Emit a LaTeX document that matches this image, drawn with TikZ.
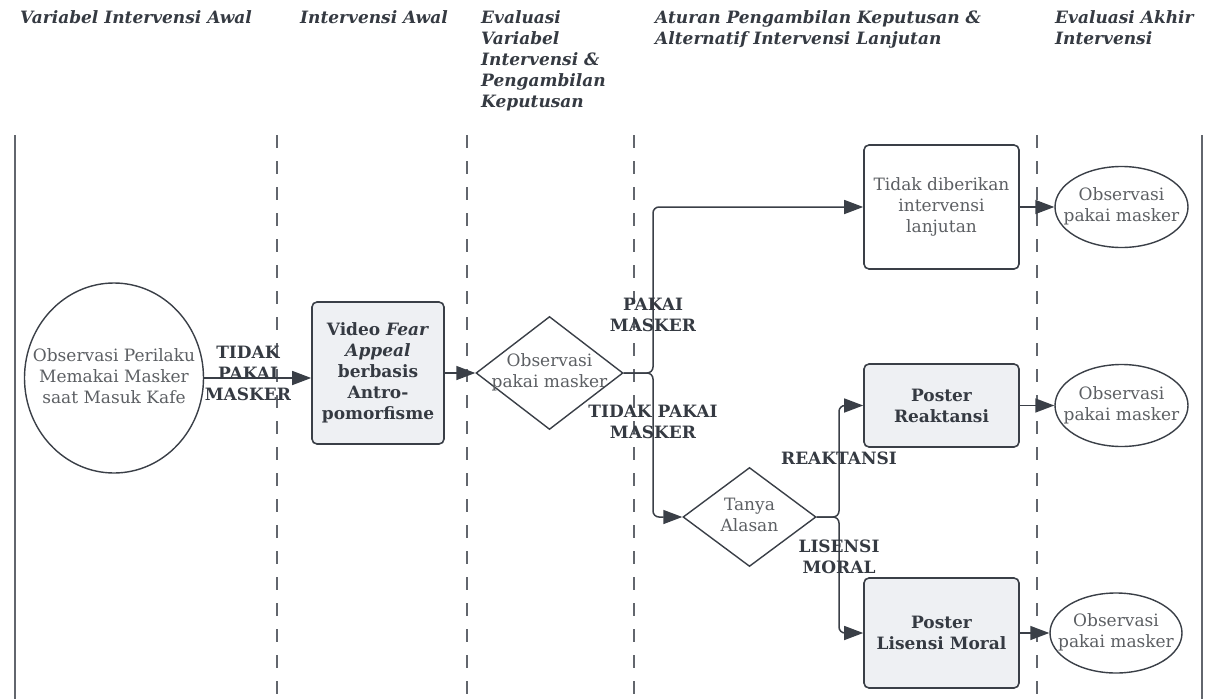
\documentclass[tikz,border=0pt]{standalone}
\usepackage{fontspec}
\setmainfont{DejaVu Serif}
\usepackage{xcolor}
\usepackage{tikz}
\usetikzlibrary{arrows.meta, shapes.geometric, positioning}

\definecolor{lanegray}{HTML}{62666D}
\definecolor{edgedark}{HTML}{3A3F47}
\definecolor{boxfill}{HTML}{EEF0F3}
\definecolor{txtgray}{HTML}{5C5F63}
\definecolor{txtdark}{HTML}{353A42}
\newcommand{\bodyfont}{\fontsize{17pt}{21pt}\selectfont}
\newcommand{\zw}[1]{\makebox[0pt]{\begin{tabular}{@{}c@{}}#1\end{tabular}}}

\begin{document}
\begin{tikzpicture}[
  x=1pt, y=-1pt,
  lane/.style     = {draw=lanegray, line width=1.3pt},
  sep/.style      = {lane, dash pattern=on 13pt off 13pt},
  head/.style     = {anchor=north west, inner sep=0pt, align=left,
                     font=\bodyfont\bfseries\itshape, text=txtdark},
  block/.style    = {rectangle, rounded corners=5pt, draw=edgedark, line width=1.6pt,
                     fill=boxfill, align=center, inner sep=0pt,
                     font=\bodyfont\bfseries, text=txtdark},
  plainbox/.style = {block, fill=white, font=\bodyfont, text=txtgray},
  decision/.style = {diamond, draw=edgedark, line width=1.4pt, inner sep=0pt,
                     fill=white, font=\bodyfont, text=txtgray},
  obs/.style      = {ellipse, draw=edgedark, line width=1.4pt, inner sep=0pt,
                     fill=white, font=\bodyfont, text=txtgray},
  arrow/.style    = {-{Triangle[length=19pt,width=14pt]}, draw=edgedark,
                     line width=1.5pt, rounded corners=6pt},
  tag/.style      = {inner sep=0pt, align=center, font=\bodyfont\bfseries,
                     text=txtdark}
]
\useasboundingbox (0,0) rectangle (1208,699);

\node[head] (h1) at (20,10)   {Variabel Intervensi Awal};
\node[head] (h2) at (300,10)  {Intervensi Awal};
\node[head] (h3) at (481,10)  {Evaluasi\\Variabel\\Intervensi \&\\Pengambilan\\Keputusan};
\node[head] (h4) at (655,10)  {Aturan Pengambilan Keputusan \&\\Alternatif Intervensi Lanjutan};
\node[head] (h5) at (1055,10) {Evaluasi Akhir\\Intervensi};

\draw[lane] (15,135) -- (15,699);
\draw[lane] (1202,135) -- (1202,699);
\foreach \lx in {277,467,634,1037}
  \draw[sep] (\lx,135) -- (\lx,699);

\node[obs, minimum width=179pt, minimum height=190pt] (awal) at (114,378)
  {\zw{Observasi Perilaku\\Memakai Masker\\saat Masuk Kafe}};

\node[block, minimum width=132pt, minimum height=142pt] (video) at (378,373)
  {Video \textit{Fear}\\\textit{Appeal}\\berbasis\\Antro-\\pomorfisme};

\node[decision, minimum width=147pt, minimum height=113pt] (cek) at (549.5,373)
  {\zw{Observasi\\pakai masker}};

\node[decision, minimum width=133pt, minimum height=99pt] (tanya) at (749.5,517)
  {\zw{Tanya\\Alasan}};

\node[plainbox, minimum width=155pt, minimum height=124pt] (tanpa) at (941.5,207)
  {Tidak diberikan\\intervensi\\lanjutan};

\node[block, minimum width=155pt, minimum height=83pt] (reaktansi) at (941.5,405.5)
  {Poster\\Reaktansi};

\node[block, minimum width=155pt, minimum height=110pt] (lisensi) at (941.5,633)
  {Poster\\Lisensi Moral};

\node[obs, minimum width=133pt, minimum height=81pt] (akhirA) at (1121.5,207)
  {\zw{Observasi\\pakai masker}};
\node[obs, minimum width=133pt, minimum height=82pt] (akhirB) at (1121.5,405.5)
  {\zw{Observasi\\pakai masker}};
\node[obs, minimum width=132pt, minimum height=80pt] (akhirC) at (1116,633)
  {\zw{Observasi\\pakai masker}};

\coordinate (cabang1) at (653,373);
\coordinate (cabang2) at (839,517);

\draw[arrow] (awal.east) -- (awal.east -| video.west);
\draw[arrow] (video) -- (cek);
\draw[arrow] (cek.east) -- (cabang1) |- (tanpa.west);
\draw[arrow] (cek.east) -- (cabang1) |- (tanya.west);
\draw[arrow] (tanya.east) -- (cabang2) |- (reaktansi.west);
\draw[arrow] (tanya.east) -- (cabang2) |- (lisensi.west);
\draw[arrow] (tanpa) -- (akhirA);
\draw[arrow] (reaktansi) -- (akhirB);
\draw[arrow] (lisensi) -- (akhirC);

\node[tag] (l1) at (248,373) {TIDAK\\PAKAI\\MASKER};
\node[tag] (l2) at (653,315) {PAKAI\\MASKER};
\node[tag] (l3) at (653,422) {TIDAK PAKAI\\MASKER};
\node[tag] (l4) at (839,458) {REAKTANSI};
\node[tag] (l5) at (839,557) {LISENSI\\MORAL};

\end{tikzpicture}
\end{document}
